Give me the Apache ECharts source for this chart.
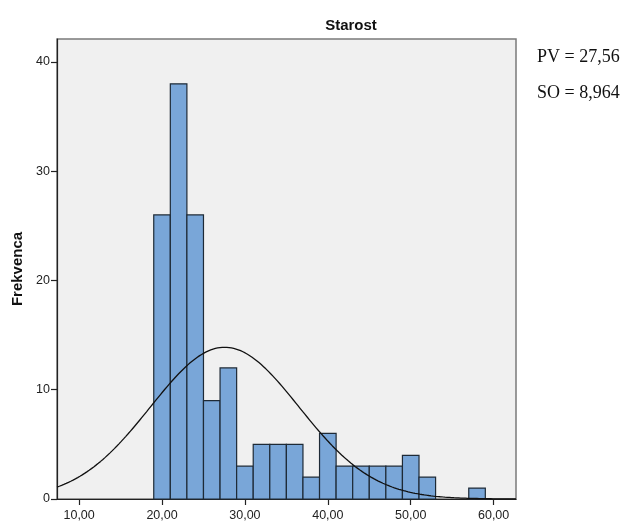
<!DOCTYPE html>
<html>
<head>
<meta charset="utf-8">
<script src="https://cdn.jsdelivr.net/npm/echarts@6/dist/echarts.min.js"></script>
<style>html,body{margin:0;padding:0;background:#fff;}#c{width:624px;height:521px;}</style>
</head>
<body>
<div id="c"></div>
<script>
// Data
const binStarts = [19,21,23,25,27,29,31,33,35,37,39,41,43,45,47,49,51,53,55,57];
const counts    = [26,38,26, 9,12, 3, 5, 5, 5, 2, 6, 3, 3, 3, 3, 4, 2, 0, 0, 1];
const binWidth = 2;
const mean = 27.56;
const sd = 8.964;
const xTicks = [10,20,30,40,50,60];
const yTicks = [0,10,20,30,40];
const titleText = 'Starost';
const yName = 'Frekvenca';

const N = counts.reduce((a,b)=>a+b,0);
const xMin = 7.33, xMax = 62.7;
const curve = [];
for (let i = 0; i <= 200; i++) {
  const x = xMin + (xMax - xMin) * i / 200;
  const z = (x - mean) / sd;
  curve.push([x, N * binWidth * Math.exp(-0.5*z*z) / (sd*Math.sqrt(2*Math.PI))]);
}
const barData = binStarts.map((s,i)=>[s, s+binWidth, counts[i]]).filter(d=>d[2]>0);

const chart = echarts.init(document.getElementById('c'));
chart.setOption({
  animation:false,
  backgroundColor:'#ffffff',
  title:{text:titleText, left:346, top:13, textAlign:'center',
    textStyle:{fontFamily:'Liberation Sans, Arial', fontWeight:'bold', fontSize:15, color:'#111'}},
  grid:{left:57, right:108, top:39, bottom:22, show:true, backgroundColor:'#f0f0f0', borderColor:'#7a7a7a', borderWidth:1.5, outerBoundsMode:'none', containLabel:false},
  graphic:[
    {type:'text', left:537, top:48, style:{text:'PV = 27,56', font:'18px "Liberation Serif", "Times New Roman"', fill:'#111'}},
    {type:'text', left:537, top:84, style:{text:'SO = 8,964', font:'18px "Liberation Serif", "Times New Roman"', fill:'#111'}}
  ],
  xAxis:{type:'value', min:xMin, max:xMax,
    axisLine:{show:true, lineStyle:{color:'#222', width:1.2}},
    axisTick:{show:true, customValues:xTicks, length:6, lineStyle:{color:'#222', width:1.2}},
    axisLabel:{customValues:xTicks, formatter:v=>v.toFixed(2).replace('.',','), fontFamily:'Liberation Sans, Arial', fontSize:12.5, color:'#222', margin:10},
    splitLine:{show:false}},
  yAxis:{type:'value', min:0, max:42.1,
    name:yName, nameLocation:'middle', nameGap:32,
    nameTextStyle:{fontFamily:'Liberation Sans, Arial', fontWeight:'bold', fontSize:15, color:'#111'},
    axisLine:{show:true, lineStyle:{color:'#222', width:1.2}},
    axisTick:{show:true, customValues:yTicks, length:6, lineStyle:{color:'#222', width:1.2}},
    axisLabel:{customValues:yTicks, fontFamily:'Liberation Sans, Arial', fontSize:12.5, color:'#222', margin:7},
    splitLine:{show:false}},
  series:[
    {type:'custom', data:barData, z:2,
      renderItem:function(params, api){
        const p0 = api.coord([api.value(0), api.value(2)]);
        const p1 = api.coord([api.value(1), 0]);
        return {type:'rect', shape:{x:p0[0], y:p0[1], width:p1[0]-p0[0], height:p1[1]-p0[1]},
          style:{fill:'#79a6d8', stroke:'#1e2a36', lineWidth:1.2}};
      }},
    {type:'line', data:curve, showSymbol:false, smooth:false, z:5, clip:true,
      lineStyle:{color:'#111', width:1.3}}
  ]
});
</script>
</body>
</html>
